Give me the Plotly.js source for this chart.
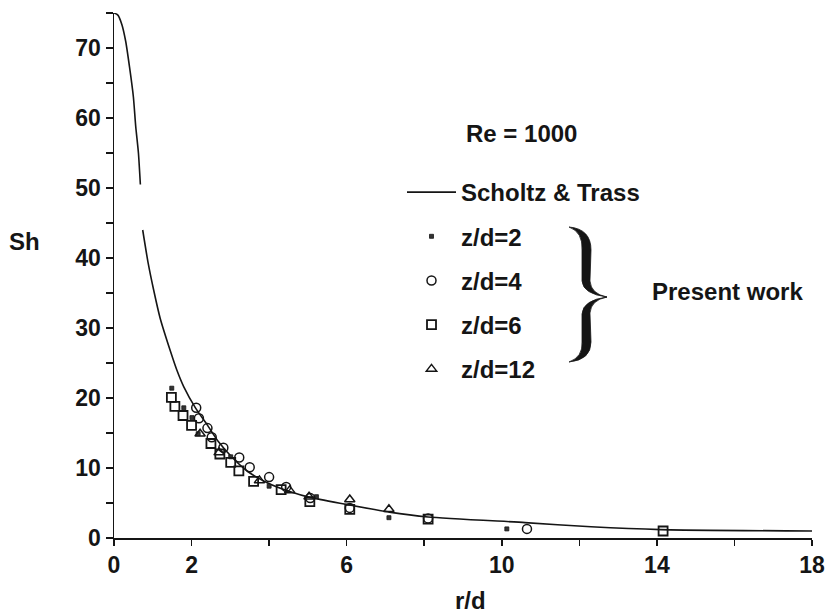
<!DOCTYPE html>
<html>
<head>
<meta charset="utf-8">
<script src="https://cdn.plot.ly/plotly-3.0.1.min.js"></script>
<style>html,body{margin:0;padding:0;background:#fff;}#chart{width:829px;height:614px;}</style>
</head>
<body>
<div id="chart"></div>
<script>
// ---- data ----
const curveR  = [0, 0.1, 0.2, 0.3, 0.4, 0.5, 0.56, 0.63, 0.68, null, 0.74, 0.88, 1.02, 1.19, 1.46, 1.62, 1.8, 2.1, 2.4, 2.7, 3.05, 3.45, 3.95, 4.55, 5.05, 6.0, 7.1, 8.1, 10.6, 12.3, 14.1, 18.0];
const curveSh = [75, 74.7, 73.4, 71, 67.3, 63, 58.8, 55, 50.5, null, 44, 39.3, 35.5, 31.4, 26.6, 24.0, 21.6, 18.6, 16.2, 13.7, 11.5, 9.5, 7.9, 6.6, 5.8, 4.8, 3.7, 3.0, 2.2, 1.6, 1.2, 1.0];

const zd2R  = [1.49, 1.8, 2.01, 2.17, 3.01, 4.0, 5.22, 7.09, 10.13];
const zd2Sh = [21.4, 18.6, 17.2, 14.9, 11.6, 7.4, 5.9, 2.9, 1.3];

const zd4R  = [2.12, 2.19, 2.41, 2.52, 2.82, 3.23, 3.5, 4.0, 4.44, 5.06, 6.08, 8.1, 10.65];
const zd4Sh = [18.6, 17.1, 15.7, 14.4, 12.9, 11.5, 10.1, 8.7, 7.3, 5.7, 4.3, 2.8, 1.3];

const zd6R  = [1.48, 1.57, 1.78, 2.0, 2.5, 2.73, 3.01, 3.22, 3.6, 4.31, 5.05, 6.08, 8.1, 14.16];
const zd6Sh = [20.1, 18.8, 17.5, 16.1, 13.5, 12.0, 10.8, 9.6, 8.1, 6.9, 5.2, 4.1, 2.7, 1.0];

const zd12R  = [2.22, 2.71, 3.75, 4.53, 5.03, 6.08, 7.09];
const zd12Sh = [14.9, 12.2, 8.2, 6.8, 5.9, 5.5, 4.1];

const xTickVals = [0, 2, 4, 6, 8, 10, 12, 14, 16, 18];
const xTickText = ['0', '2', '', '6', '', '10', '', '14', '', '18'];
const yTickVals = [0, 10, 20, 30, 40, 50, 60, 70];

const seriesNames = ['Scholtz & Trass', 'z/d=2', 'z/d=4', 'z/d=6', 'z/d=12'];

// ---- layout helpers ----
const M = {l: 114, r: 17, t: 13, b: 76};
const PW = 829 - M.l - M.r, PH = 614 - M.t - M.b;
const px2x = p => (p - M.l) / PW;
const py2y = p => 1 - (p - M.t) / PH;
const INK = '#151515';
const FONT = {family: 'Liberation Sans, Arial, sans-serif', size: 24, color: INK, weight: 700};
const TICKFONT = {family: 'Liberation Sans, Arial, sans-serif', size: 23, color: INK, weight: 700};

function bracePath() {
  const P = (x, y) => px2x(x).toFixed(4) + ',' + py2y(y).toFixed(4);
  return 'M' + P(569, 227) +
    ' Q' + P(591, 229) + ' ' + P(591, 250) +
    ' L' + P(590, 281) +
    ' Q' + P(591, 294) + ' ' + P(607, 297) +
    ' Q' + P(591, 300) + ' ' + P(590, 313) +
    ' L' + P(591, 342) +
    ' Q' + P(591, 360) + ' ' + P(569, 362) +
    ' Q' + P(583, 357) + ' ' + P(582, 342) +
    ' L' + P(582, 314) +
    ' Q' + P(583, 300) + ' ' + P(607, 297) +
    ' Q' + P(583, 294) + ' ' + P(582, 281) +
    ' L' + P(582, 250) +
    ' Q' + P(583, 232) + ' ' + P(569, 227) + ' Z';
}

const traces = [
  {x: curveR, y: curveSh, name: seriesNames[0], type: 'scatter', mode: 'lines',
   line: {color: INK, width: 1.6, shape: 'spline', smoothing: 0.6}, connectgaps: false, legendgroup: 'a'},
  {x: zd2R, y: zd2Sh, name: seriesNames[1], type: 'scatter', mode: 'markers',
   marker: {symbol: 'square', size: 4, color: '#333', line: {color: INK, width: 0.8}}, legendgroup: 'b'},
  {x: zd4R, y: zd4Sh, name: seriesNames[2], type: 'scatter', mode: 'markers',
   marker: {symbol: 'circle-open', size: 9, color: INK, line: {color: INK, width: 1.5}}, legendgroup: 'c'},
  {x: zd6R, y: zd6Sh, name: seriesNames[3], type: 'scatter', mode: 'markers',
   marker: {symbol: 'square-open', size: 9, color: INK, line: {color: INK, width: 1.8}}, legendgroup: 'd'},
  {x: zd12R, y: zd12Sh, name: seriesNames[4], type: 'scatter', mode: 'markers',
   marker: {symbol: 'triangle-up-open', size: 9, color: INK, line: {color: INK, width: 1.5}}, legendgroup: 'e'}
];

const layout = {
  width: 829, height: 614,
  margin: M,
  paper_bgcolor: '#fff', plot_bgcolor: '#fff',
  font: FONT,
  showlegend: true,
  legend: {
    x: px2x(402), y: py2y(170), xanchor: 'left', yanchor: 'top',
    bgcolor: 'rgba(0,0,0,0)', borderwidth: 0, font: FONT,
    tracegroupgap: 10, traceorder: 'grouped', itemsizing: 'trace', itemwidth: 49
  },
  xaxis: {
    range: [0, 18], showgrid: false, zeroline: false,
    showline: true, linecolor: INK, linewidth: 1.5,
    ticks: 'outside', ticklen: 6, tickwidth: 1.5, tickcolor: INK,
    tickmode: 'array', tickvals: xTickVals, ticktext: xTickText,
    tickfont: TICKFONT
  },
  yaxis: {
    range: [0, 75], showgrid: false, zeroline: false,
    showline: true, linecolor: INK, linewidth: 1.5,
    ticks: 'outside', ticklen: 7, tickwidth: 1.5, tickcolor: INK,
    tickmode: 'array', tickvals: yTickVals,
    minor: {tickvals: [5, 15, 25, 35, 45, 55, 65, 75], ticks: 'outside', ticklen: 7, tickwidth: 1.5, tickcolor: INK, showgrid: false},
    tickfont: TICKFONT
  },
  shapes: [
    {type: 'path', xref: 'paper', yref: 'paper', path: bracePath(), fillcolor: INK, line: {color: INK, width: 0.8}}
  ],
  annotations: [
    {text: 'Re = 1000', xref: 'paper', yref: 'paper', x: px2x(464), y: py2y(133), xanchor: 'left', yanchor: 'middle', showarrow: false, font: FONT},
    {text: 'Present work', xref: 'paper', yref: 'paper', x: px2x(650), y: py2y(291), xanchor: 'left', yanchor: 'middle', showarrow: false, font: FONT},
    {text: 'Sh', xref: 'paper', yref: 'paper', x: px2x(24), y: py2y(241), xanchor: 'center', yanchor: 'middle', showarrow: false, font: FONT},
    {text: 'r/d', xref: 'paper', yref: 'paper', x: px2x(470), y: py2y(600), xanchor: 'center', yanchor: 'middle', showarrow: false, font: FONT}
  ]
};

Plotly.newPlot('chart', traces, layout, {displayModeBar: false, staticPlot: true});
</script>
</body>
</html>
